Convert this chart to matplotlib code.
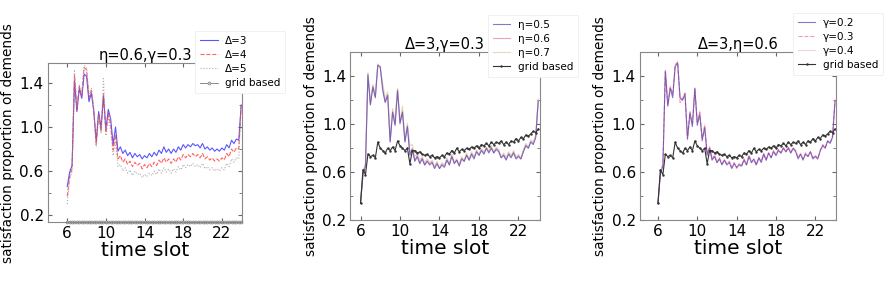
import numpy as np
import matplotlib
matplotlib.use('Agg')
import matplotlib.pyplot as plt
from matplotlib.ticker import FixedLocator

# Data (time slot 6:00 -> 24:00 every 15 min)

TIME_SLOT = np.arange(6, 24.01, 0.25)

# left panel: eta=0.6, gamma=0.3
DELTA_3 = [0.46, 0.59, 0.65, 1.42, 1.14, 1.35, 1.26, 1.48,
           1.46, 1.23, 1.31, 1.14, 0.87, 1.14, 0.99, 1.28,
           0.98, 1.16, 1.07, 0.84, 1.00, 0.78, 0.82, 0.76,
           0.79, 0.74, 0.77, 0.72, 0.76, 0.73, 0.75, 0.71,
           0.74, 0.72, 0.76, 0.73, 0.77, 0.74, 0.79, 0.76,
           0.82, 0.77, 0.80, 0.76, 0.80, 0.77, 0.82, 0.79,
           0.84, 0.81, 0.84, 0.82, 0.85, 0.83, 0.84, 0.81,
           0.85, 0.80, 0.82, 0.79, 0.81, 0.78, 0.80, 0.78,
           0.81, 0.79, 0.84, 0.81, 0.88, 0.85, 0.89, 0.88,
           1.20]
DELTA_4 = [0.37, 0.55, 0.62, 1.47, 1.16, 1.37, 1.28, 1.54,
           1.52, 1.27, 1.33, 1.15, 0.84, 1.12, 0.96, 1.30,
           0.95, 1.12, 1.02, 0.79, 0.93, 0.71, 0.74, 0.68,
           0.71, 0.66, 0.69, 0.64, 0.68, 0.65, 0.67, 0.62,
           0.66, 0.63, 0.67, 0.64, 0.68, 0.65, 0.70, 0.67,
           0.72, 0.68, 0.71, 0.67, 0.71, 0.68, 0.73, 0.70,
           0.75, 0.72, 0.75, 0.73, 0.76, 0.73, 0.75, 0.72,
           0.76, 0.71, 0.73, 0.70, 0.72, 0.69, 0.71, 0.69,
           0.72, 0.70, 0.76, 0.73, 0.80, 0.77, 0.81, 0.80,
           1.20]
DELTA_5 = [0.30, 0.52, 0.60, 1.52, 1.18, 1.38, 1.30, 1.56,
           1.54, 1.30, 1.35, 1.16, 0.82, 1.10, 0.94, 1.44,
           0.92, 1.08, 0.97, 0.74, 0.86, 0.64, 0.66, 0.60,
           0.63, 0.58, 0.61, 0.56, 0.60, 0.57, 0.58, 0.54,
           0.57, 0.55, 0.58, 0.56, 0.60, 0.57, 0.62, 0.58,
           0.63, 0.59, 0.62, 0.58, 0.62, 0.59, 0.64, 0.61,
           0.66, 0.63, 0.66, 0.64, 0.67, 0.64, 0.66, 0.63,
           0.67, 0.62, 0.64, 0.61, 0.63, 0.60, 0.62, 0.60,
           0.63, 0.61, 0.67, 0.64, 0.71, 0.68, 0.72, 0.71,
           1.20]
GRID_LEFT = [0.14, 0.14, 0.14, 0.14, 0.14, 0.14, 0.14, 0.14,
             0.14, 0.14, 0.14, 0.14, 0.14, 0.14, 0.14, 0.14,
             0.14, 0.14, 0.14, 0.14, 0.14, 0.14, 0.14, 0.14,
             0.14, 0.14, 0.14, 0.14, 0.14, 0.14, 0.14, 0.14,
             0.14, 0.14, 0.14, 0.14, 0.14, 0.14, 0.14, 0.14,
             0.14, 0.14, 0.14, 0.14, 0.14, 0.14, 0.14, 0.14,
             0.14, 0.14, 0.14, 0.14, 0.14, 0.14, 0.14, 0.14,
             0.14, 0.14, 0.14, 0.14, 0.14, 0.14, 0.14, 0.14,
             0.14, 0.14, 0.14, 0.14, 0.14, 0.14, 0.14, 0.14,
             0.14]

# middle panel: delta=3, gamma=0.3
ETA_05 = [0.34, 0.58, 0.65, 1.41, 1.16, 1.31, 1.22, 1.49,
          1.48, 1.28, 1.18, 1.24, 0.85, 1.10, 0.99, 1.28,
          1.01, 1.10, 0.85, 0.98, 0.74, 0.79, 0.69, 0.73,
          0.67, 0.71, 0.66, 0.69, 0.66, 0.68, 0.63, 0.67,
          0.63, 0.66, 0.64, 0.70, 0.66, 0.73, 0.67, 0.70,
          0.65, 0.71, 0.69, 0.74, 0.70, 0.75, 0.71, 0.77,
          0.74, 0.78, 0.75, 0.80, 0.76, 0.80, 0.76, 0.79,
          0.77, 0.72, 0.74, 0.70, 0.75, 0.72, 0.76, 0.71,
          0.73, 0.71, 0.77, 0.82, 0.80, 0.85, 0.83, 0.89,
          1.19]
ETA_06 = [0.34, 0.60, 0.66, 1.42, 1.17, 1.32, 1.23, 1.50,
          1.47, 1.30, 1.19, 1.25, 0.86, 1.11, 1.00, 1.29,
          1.00, 1.11, 0.86, 0.99, 0.76, 0.80, 0.70, 0.74,
          0.68, 0.72, 0.66, 0.70, 0.67, 0.69, 0.64, 0.68,
          0.63, 0.67, 0.65, 0.71, 0.66, 0.74, 0.68, 0.70,
          0.66, 0.72, 0.69, 0.75, 0.70, 0.76, 0.72, 0.78,
          0.74, 0.79, 0.76, 0.80, 0.77, 0.81, 0.76, 0.80,
          0.78, 0.72, 0.75, 0.71, 0.76, 0.73, 0.77, 0.72,
          0.74, 0.71, 0.78, 0.83, 0.80, 0.86, 0.84, 0.90,
          1.20]
ETA_07 = [0.35, 0.61, 0.67, 1.43, 1.19, 1.33, 1.25, 1.50,
          1.46, 1.34, 1.22, 1.27, 0.88, 1.13, 1.04, 1.30,
          1.03, 1.15, 0.88, 1.01, 0.82, 0.83, 0.73, 0.76,
          0.70, 0.73, 0.68, 0.71, 0.68, 0.70, 0.65, 0.69,
          0.64, 0.68, 0.66, 0.72, 0.67, 0.75, 0.69, 0.71,
          0.67, 0.73, 0.70, 0.76, 0.71, 0.77, 0.73, 0.78,
          0.75, 0.80, 0.77, 0.81, 0.78, 0.82, 0.77, 0.81,
          0.79, 0.73, 0.76, 0.72, 0.77, 0.74, 0.78, 0.73,
          0.75, 0.72, 0.79, 0.84, 0.81, 0.87, 0.85, 0.91,
          1.21]

# right panel: delta=3, eta=0.6
GAMMA_02 = [0.34, 0.59, 0.65, 1.44, 1.15, 1.30, 1.22, 1.48,
            1.51, 1.22, 1.20, 1.25, 0.88, 1.09, 0.98, 1.30,
            0.99, 1.08, 0.87, 0.97, 0.74, 0.80, 0.70, 0.73,
            0.68, 0.71, 0.66, 0.70, 0.66, 0.68, 0.63, 0.67,
            0.64, 0.66, 0.65, 0.70, 0.66, 0.73, 0.68, 0.71,
            0.66, 0.72, 0.68, 0.75, 0.70, 0.76, 0.72, 0.77,
            0.74, 0.78, 0.76, 0.80, 0.77, 0.80, 0.76, 0.80,
            0.77, 0.71, 0.75, 0.70, 0.75, 0.73, 0.77, 0.71,
            0.73, 0.71, 0.78, 0.82, 0.80, 0.86, 0.84, 0.89,
            1.19]
GAMMA_03 = [0.34, 0.60, 0.66, 1.45, 1.16, 1.31, 1.25, 1.49,
            1.52, 1.18, 1.21, 1.26, 0.87, 1.10, 1.00, 1.29,
            1.02, 1.10, 0.86, 0.99, 0.75, 0.81, 0.71, 0.74,
            0.68, 0.72, 0.67, 0.70, 0.67, 0.69, 0.64, 0.68,
            0.63, 0.67, 0.65, 0.71, 0.66, 0.74, 0.68, 0.70,
            0.66, 0.72, 0.69, 0.75, 0.70, 0.76, 0.72, 0.78,
            0.74, 0.79, 0.76, 0.80, 0.77, 0.81, 0.76, 0.80,
            0.78, 0.72, 0.75, 0.71, 0.76, 0.73, 0.77, 0.72,
            0.74, 0.71, 0.78, 0.83, 0.80, 0.86, 0.84, 0.90,
            1.20]
GAMMA_04 = [0.35, 0.61, 0.66, 1.44, 1.17, 1.32, 1.24, 1.50,
            1.51, 1.21, 1.22, 1.26, 0.88, 1.11, 1.01, 1.30,
            1.01, 1.11, 0.87, 1.00, 0.76, 0.81, 0.71, 0.75,
            0.69, 0.72, 0.67, 0.71, 0.67, 0.69, 0.65, 0.68,
            0.64, 0.67, 0.66, 0.71, 0.67, 0.74, 0.69, 0.71,
            0.67, 0.72, 0.69, 0.76, 0.71, 0.76, 0.72, 0.78,
            0.75, 0.79, 0.76, 0.81, 0.77, 0.81, 0.77, 0.80,
            0.78, 0.72, 0.76, 0.71, 0.76, 0.74, 0.77, 0.72,
            0.74, 0.72, 0.78, 0.83, 0.81, 0.86, 0.85, 0.90,
            1.21]

# grid based baseline for middle / right panels
GRID_BASED = [0.34, 0.62, 0.58, 0.75, 0.73, 0.74, 0.72, 0.85,
              0.80, 0.78, 0.76, 0.80, 0.78, 0.81, 0.78, 0.86,
              0.82, 0.80, 0.78, 0.80, 0.67, 0.78, 0.78, 0.76,
              0.77, 0.75, 0.74, 0.75, 0.73, 0.74, 0.72, 0.73,
              0.72, 0.74, 0.73, 0.76, 0.75, 0.78, 0.76, 0.80,
              0.77, 0.79, 0.78, 0.80, 0.79, 0.81, 0.80, 0.82,
              0.80, 0.83, 0.82, 0.84, 0.82, 0.85, 0.83, 0.85,
              0.84, 0.86, 0.83, 0.85, 0.83, 0.86, 0.85, 0.88,
              0.86, 0.89, 0.88, 0.91, 0.90, 0.92, 0.94, 0.93,
              0.96]

X_TICKS = [6, 10, 14, 18, 22]
Y_TICKS = [0.2, 0.6, 1.0, 1.4]
Y_MINOR = [0.4, 0.8, 1.2]


def style_axes(ax, title, xlim, ylim):
    ax.set_xlim(xlim)
    ax.set_ylim(ylim)
    ax.xaxis.set_major_locator(FixedLocator(X_TICKS))
    ax.yaxis.set_major_locator(FixedLocator(Y_TICKS))
    ax.yaxis.set_minor_locator(FixedLocator(Y_MINOR))
    ax.tick_params(direction='in', top=True, right=True, labelsize=11,
                   length=3, color='#666666', pad=3)
    ax.tick_params(which='minor', direction='in', right=True, length=2,
                   color='#666666')
    for sp in ax.spines.values():
        sp.set_color('#888888')
        sp.set_linewidth(0.8)
    ax.set_title(title, fontsize=10.5, pad=2)
    ax.set_xlabel('time slot', fontsize=14.5, labelpad=0)
    ax.set_ylabel('satisfaction proportion of demends', fontsize=9.8,
                  labelpad=3)


def add_legend(ax, fig, x, y, order=None):
    h, l = ax.get_legend_handles_labels()
    if order is not None:
        h = [h[i] for i in order]
        l = [l[i] for i in order]
    leg = ax.legend(h, l, loc='upper left', bbox_to_anchor=(x, y),
                    bbox_transform=fig.transFigure, fontsize=7.5,
                    fancybox=False, framealpha=1, handlelength=1.7,
                    handletextpad=0.7, borderpad=0.45, labelspacing=0.4,
                    borderaxespad=0)
    leg.get_frame().set_edgecolor('#eeeeee')
    leg.get_frame().set_linewidth(0.6)
    return leg


fig = plt.figure(figsize=(8.87, 2.87), dpi=100)
ax1 = fig.add_axes([0.054, 0.226, 0.219, 0.554])
ax2 = fig.add_axes([0.395, 0.233, 0.214, 0.585])
ax3 = fig.add_axes([0.7215, 0.233, 0.221, 0.585])

# left panel
ax1.plot(TIME_SLOT, DELTA_3, color='#3a3aff', lw=0.8, alpha=0.85, label='Δ=3')
ax1.plot(TIME_SLOT, DELTA_4, color='#ff3030', lw=0.8, ls='--', alpha=0.75,
         label='Δ=4')
ax1.plot(TIME_SLOT, DELTA_5, color='#999999', lw=0.8, ls=':', alpha=0.8,
         label='Δ=5')
ax1.plot(TIME_SLOT, GRID_LEFT, color='#777777', lw=0.6, marker='o',
         markersize=2.2, markerfacecolor='#cccccc', markeredgewidth=0.4,
         label='grid based', clip_on=False)
style_axes(ax1, 'η=0.6,γ=0.3', (4, 24.1), (0.136, 1.58))
add_legend(ax1, fig, 0.22, 0.892)

# middle panel (eta=0.5 drawn last so it sits on top)
ax2.plot(TIME_SLOT, ETA_06, color='#e0609c', lw=0.8, alpha=0.6, label='η=0.6')
ax2.plot(TIME_SLOT, ETA_07, color='#d8c8a8', lw=0.8, alpha=0.7, label='η=0.7')
ax2.plot(TIME_SLOT, ETA_05, color='#5040b0', lw=0.8, alpha=0.7, label='η=0.5')
ax2.plot(TIME_SLOT, GRID_BASED, color='#333333', lw=0.8, marker='.',
         markersize=1.5, label='grid based')
style_axes(ax2, 'Δ=3,γ=0.3', (4.97, 24.2), (0.2, 1.6))
add_legend(ax2, fig, 0.55, 0.948, order=[2, 0, 1, 3])

# right panel
ax3.plot(TIME_SLOT, GAMMA_04, color='#f0b0d0', lw=0.8, alpha=0.6,
         label='γ=0.4')
ax3.plot(TIME_SLOT, GAMMA_03, color='#ff4070', lw=0.8, ls='--', alpha=0.55,
         label='γ=0.3')
ax3.plot(TIME_SLOT, GAMMA_02, color='#5040b0', lw=0.8, alpha=0.7,
         label='γ=0.2')
ax3.plot(TIME_SLOT, GRID_BASED, color='#333333', lw=0.8, marker='.',
         markersize=1.5, label='grid based')
style_axes(ax3, 'Δ=3,η=0.6', (4.17, 24.1), (0.2, 1.6))
add_legend(ax3, fig, 0.894, 0.955, order=[2, 1, 0, 3])

fig.savefig('out.png', dpi=100)
